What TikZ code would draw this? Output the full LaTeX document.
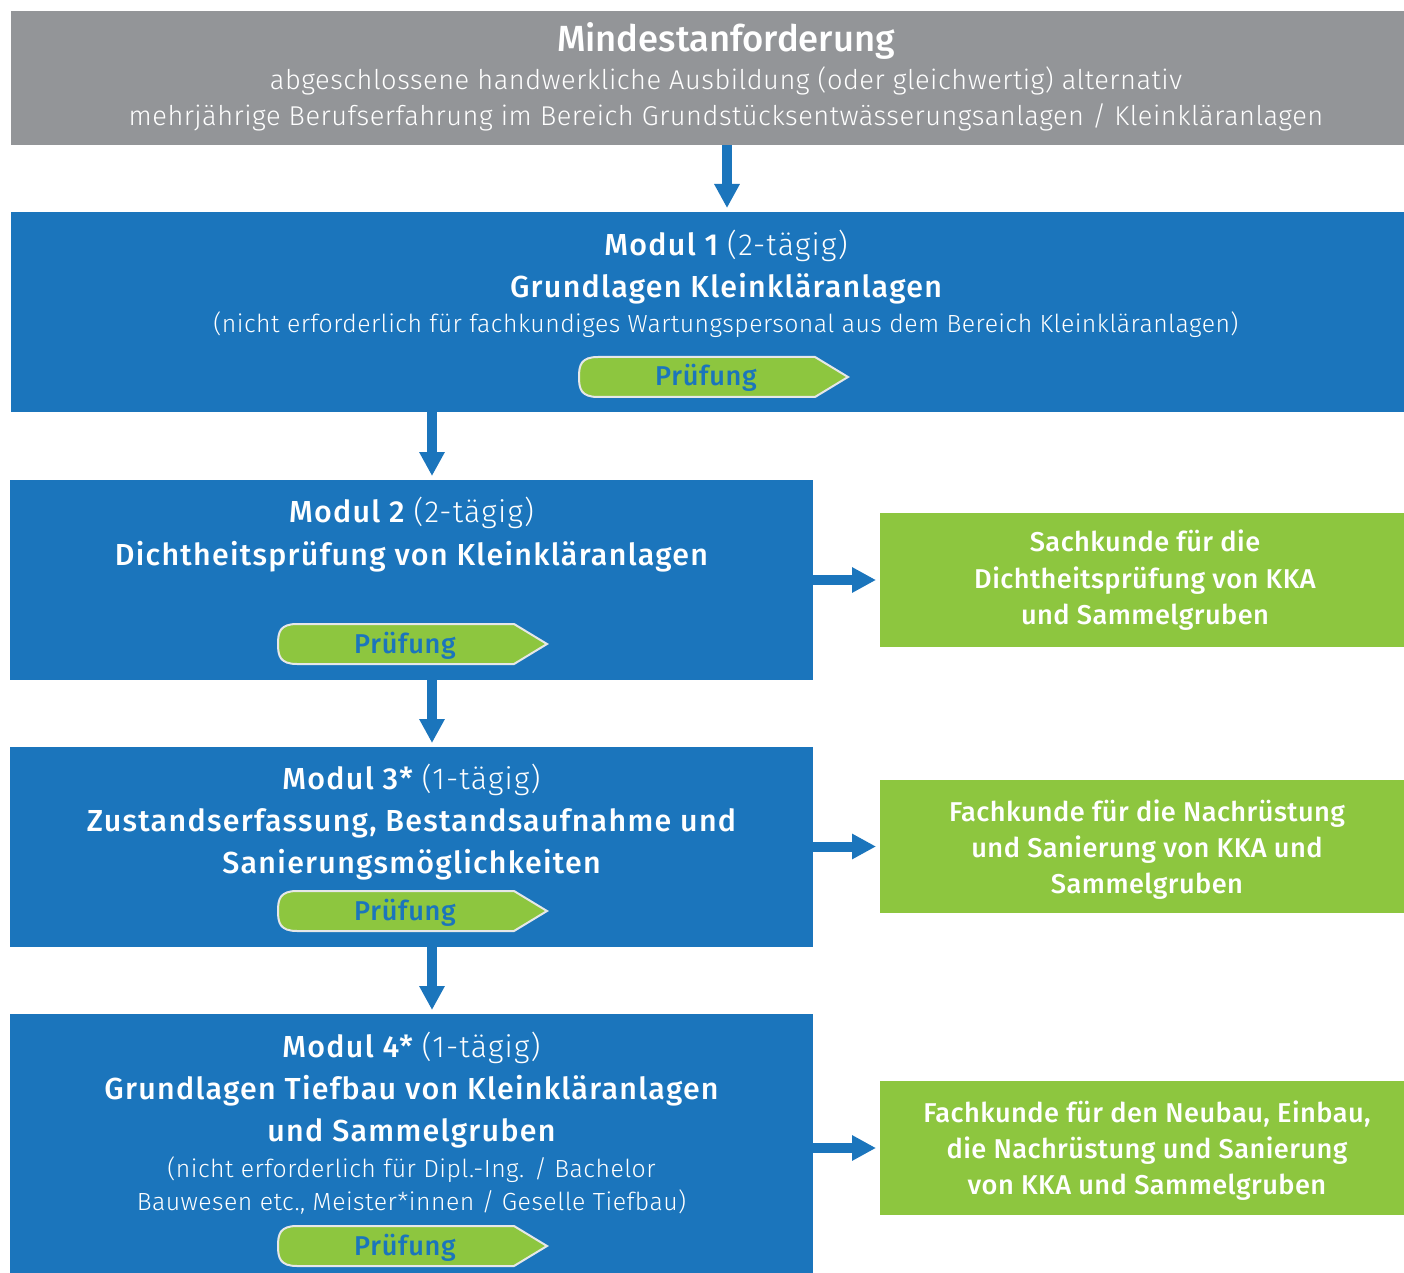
\documentclass[tikz,border=0pt]{standalone}
\usepackage{fontspec}
\setmainfont{Fira Sans Light}[BoldFont=Fira Sans Medium]
\newfontfamily\mdf{Fira Sans Medium}
\newfontfamily\mdhf{Fira Sans Medium}[LetterSpace=4.2]
\newfontfamily\ltyf{Fira Sans Light}[LetterSpace=4.2]
\newfontfamily\mdgf{Fira Sans Medium}[LetterSpace=1.6]
\newfontfamily\mdpf{Fira Sans Medium}[LetterSpace=2.5]
\newfontfamily\ltf{Fira Sans Light}[LetterSpace=1.9]
\usetikzlibrary{arrows.meta,fit}
\definecolor{kblue}{HTML}{1B75BC}
\definecolor{kgreen}{HTML}{8DC63F}
\definecolor{kgrey}{HTML}{939598}
\definecolor{kstroke}{HTML}{E6E7E8}
\newcommand\fsz[1]{\fontsize{#1}{#1}\selectfont}
\newcommand\pruef[3]{%
  \draw[pbox] (#1+236,#2) -- (#1+19,#2) .. controls (#1+2,#2) and (#1,#2+8) .. (#1,#2+20)
    .. controls (#1,#2+32) and (#1+2,#2+40) .. (#1+19,#2+40)
    -- (#1+236,#2+40) -- (#1+269,#2+20) -- cycle;
  \node[ptext] (#3) at (#1+127,#2+29) {Prüfung};}
\begin{document}
\begin{tikzpicture}[x=0.5pt,y=-0.5pt,
  area/.style={inner sep=0pt,outer sep=0pt,draw=none},
  t/.style={anchor=base,inner sep=0pt,text=white},
  title/.style={t,font=\mdf\fsz{18.2}},
  sub/.style={t,font=\ltf\fsz{13.6}},
  hd/.style={t,font=\mdhf\fsz{15.2}},
  sm/.style={t,font=\ltf\fsz{12.4}},
  gt/.style={t,font=\mdgf\fsz{13.6}},
  ptext/.style={anchor=base,inner sep=0pt,text=kblue,font=\mdpf\fsz{13.6}},
  pbox/.style={fill=kgreen,draw=kstroke,line width=1pt},
  conn/.style={draw=kblue,line width=5pt,shorten >=2pt,-{Triangle[length=12pt,width=12pt]}}]
\useasboundingbox (0,0) rectangle (1404,1273);
\fill[white] (0,0) rectangle (1404,1273);
% boxes
\node[area,fill=kgrey,fit={(11,11)(1404,145)}] (grey) {};
\node[area,fill=kblue,fit={(11,212)(1404,412)}] (m1) {};
\node[area,fill=kblue,fit={(10,480)(813,680)}] (m2) {};
\node[area,fill=kblue,fit={(10,747)(813,947)}] (m3) {};
\node[area,fill=kblue,fit={(10,1014)(813,1273)}] (m4) {};
\node[area,fill=kgreen,fit={(880,513)(1404,647)}] (g1) {};
\node[area,fill=kgreen,fit={(880,780)(1404,913)}] (g2) {};
\node[area,fill=kgreen,fit={(880,1081)(1404,1215)}] (g3) {};
% grey text
\node[title] (gt1) at (726,52) {Mindestanforderung};
\node[sub] (gt2) at (726,90) {abgeschlossene handwerkliche Ausbildung (oder gleichwertig) alternativ};
\node[sub] (gt3) at (726,126) {mehrjährige Berufserfahrung im Bereich Grundstücksentwässerungsanlagen / Kleinkläranlagen};
% modul 1
\node[hd] (m1a) at (726,256) {Modul 1 {\ltyf(2-tägig)}};
\node[hd] (m1b) at (726,298) {Grundlagen Kleinkläranlagen};
\node[sm] (m1c) at (726,333) {(nicht erforderlich für fachkundiges Wartungspersonal aus dem Bereich Kleinkläranlagen)};
\pruef{579}{357}{p1}
% modul 2
\node[hd] (m2a) at (411.5,523) {Modul 2 {\ltyf(2-tägig)}};
\node[hd] (m2b) at (411.5,565) {Dichtheitsprüfung von Kleinkläranlagen};
\pruef{278}{624}{p2}
% modul 3
\node[hd] (m3a) at (411.5,789) {Modul 3* {\ltyf(1-tägig)}};
\node[hd] (m3b) at (411.5,831) {Zustandserfassung, Bestandsaufnahme und};
\node[hd] (m3c) at (411.5,873) {Sanierungsmöglichkeiten};
\pruef{278}{891}{p3}
% modul 4
\node[hd] (m4a) at (411.5,1057) {Modul 4* {\ltyf(1-tägig)}};
\node[hd] (m4b) at (411.5,1099) {Grundlagen Tiefbau von Kleinkläranlagen};
\node[hd] (m4c) at (411.5,1141) {und Sammelgruben};
\node[sm] (m4d) at (411.5,1177) {(nicht erforderlich für Dipl.-Ing. / Bachelor};
\node[sm] (m4e) at (411.5,1210) {Bauwesen etc., Meister*innen / Geselle Tiefbau)};
\pruef{278}{1226}{p4}
% green texts
\node[gt] (g1a) at (1145,551) {Sachkunde für die};
\node[gt] (g1b) at (1145,588) {Dichtheitsprüfung von KKA};
\node[gt] (g1c) at (1145,624) {und Sammelgruben};
\node[gt] (g2a) at (1147,821) {Fachkunde für die Nachrüstung};
\node[gt] (g2b) at (1147,857) {und Sanierung von KKA und};
\node[gt] (g2c) at (1147,893) {Sammelgruben};
\node[gt] (g3a) at (1147,1122) {Fachkunde für den Neubau, Einbau,};
\node[gt] (g3b) at (1147,1158) {die Nachrüstung und Sanierung};
\node[gt] (g3c) at (1147,1194) {von KKA und Sammelgruben};
% connectors
\coordinate (ax0) at (727,0);
\coordinate (ax) at (432,0);
\draw[conn] (ax0 |- grey.south) -- (ax0 |- m1.north);
\draw[conn] (ax |- m1.south) -- (ax |- m2.north);
\draw[conn] (ax |- m2.south) -- (ax |- m3.north);
\draw[conn] (ax |- m3.south) -- (ax |- m4.north);
\draw[conn] (m2.east |- g1.west) -- (g1.west);
\draw[conn] (m3.east |- g2.west) -- (g2.west);
\draw[conn] (m4.east |- g3.west) -- (g3.west);
\end{tikzpicture}
\end{document}
